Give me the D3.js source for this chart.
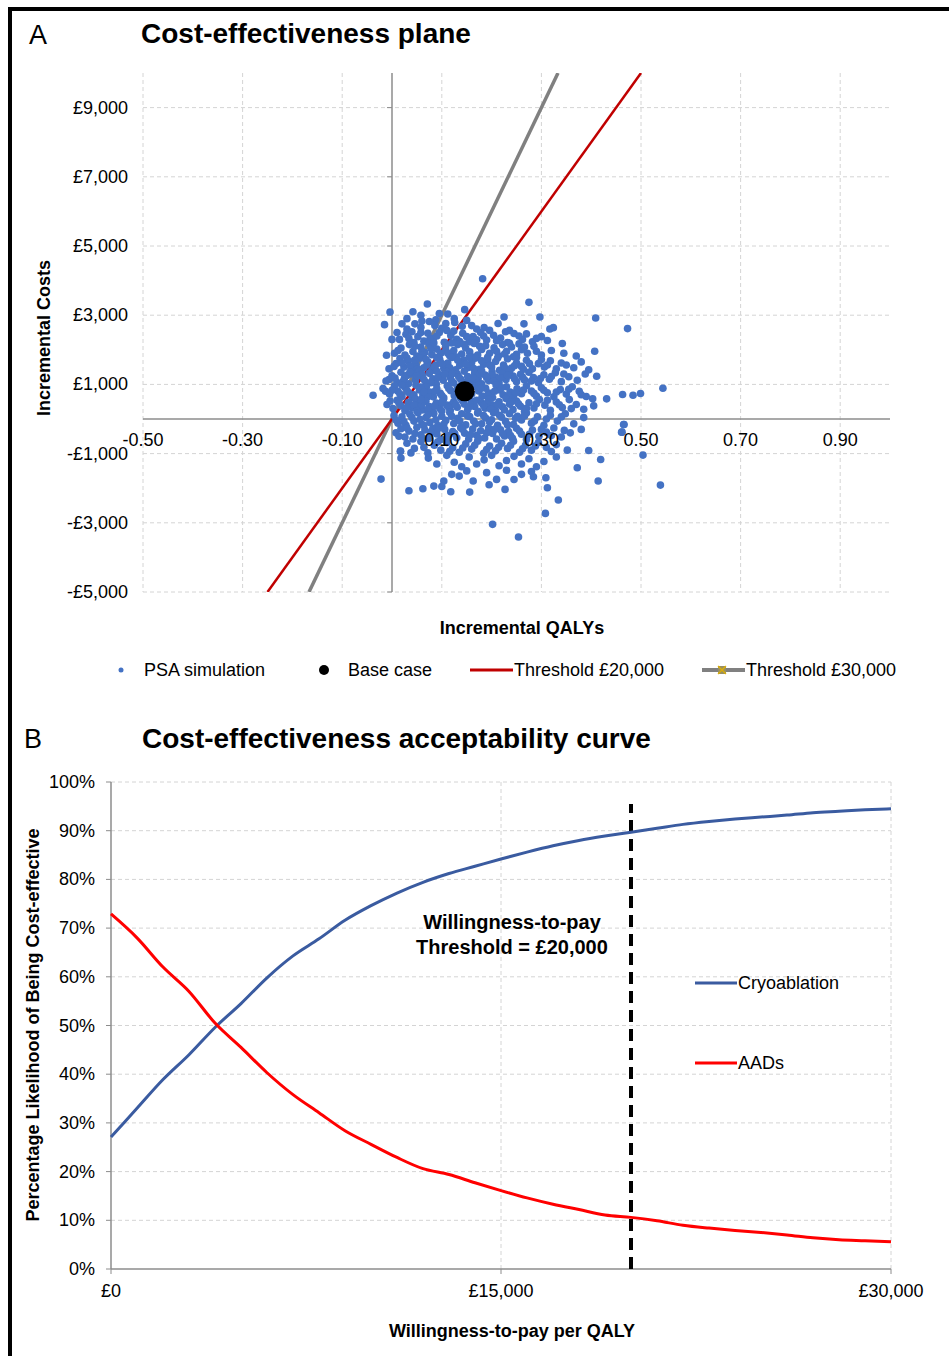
<!DOCTYPE html>
<html>
<head>
<meta charset="utf-8">
<script src="https://cdn.jsdelivr.net/npm/d3@7"></script>
<style>
body { margin: 0; background: #fff; }
svg { display: block; font-family: Arial, "Liberation Sans", sans-serif; }
</style>
</head>
<body>
<svg id="chart" width="949" height="1356"></svg>
<script>
// ---- panel A data: PSA simulations [incremental QALYs, incremental cost £]
var psaPoints = [
  [0.182,4055],[0.071,3324],[0.275,3372],[-0.004,3093],[-0.015,2727],[0.146,3160],[0.112,3035],
  [0.297,2949],[0.409,2920],[0.473,2612],[-0.011,1842],[0.407,1958],[-0.038,688],[-0.013,803],
  [-0.006,1140],[0.411,1236],[0.544,890],[0.463,707],[0.484,688],[0.499,736],[0.431,582],[0.403,582],
  [0.465,-159],[0.461,-380],[0.504,-1044],[0.539,-1910],[0.414,-1794],[0.419,-1169],[0.395,-909],
  [0.372,-1409],[0.334,-2343],[0.308,-2728],[0.202,-3045],[0.254,-3410],[-0.022,-1737],[0.034,-2074],
  [0.062,-2016],[0.084,-1939],[0.017,-929],[0.018,-1130],[0.073,-1130],[0.118,-2102],[0.156,-2112],
  [0.227,-2035],[0.312,-1987],[0.309,-1698],[0.284,-1669],[0.104,-1794],[0.135,-1650],[0.163,-1794],
  [0.210,-1746],
  [0.058,3000],[0.125,2900],[0.088,2870],
  [0.030,2900],[0.042,3100],[0.060,2830],[0.095,3050],[0.108,2760],[0.150,2850],[0.160,2700],
  [0.020,2750],[0.010,2500],[0.000,2300],[0.265,2750],[0.225,2950],
  [0.046,2750],[0.058,2650],[0.075,2820],[0.086,2700],[0.100,2620],[0.126,2790],[0.141,2680],
  [0.170,2600],[0.185,2640],[0.213,2760],[0.236,2560],[0.317,2600],[0.324,2640],[0.030,2600],
  [0.015,2300],[0.028,2450],[0.040,2520],[0.052,2380],[0.064,2250],[0.072,2480],[0.083,2330],
  [0.095,2500],[0.105,2220],[0.118,2410],[0.130,2300],[0.142,2480],[0.155,2230],[0.163,2380],
  [0.178,2500],[0.190,2280],[0.204,2420],[0.218,2340],[0.232,2210],[0.245,2470],[0.262,2300],
  [0.282,2230],[0.300,2380],[0.312,2270],[0.342,2180],[0.044,2210],[0.110,2560],[0.196,2560],
  [0.255,2400],[0.170,2290],
  [0.034,2330],[0.058,2500],[0.076,2300],[0.090,2400],[0.124,2540],[0.136,2240],[0.150,2380],
  [0.184,2400],[0.210,2260],[0.228,2520],[0.270,2460],[0.290,2330],
  [0.005,1900],[0.018,2050],[0.026,1850],[0.035,2150],[0.042,1950],[0.050,1820],[0.058,2080],
  [0.066,1920],[0.074,2180],[0.080,1860],[0.090,2020],[0.098,1900],[0.108,2120],[0.116,1830],
  [0.124,1980],[0.132,2150],[0.140,1880],[0.148,2050],[0.156,1940],[0.165,2180],[0.172,1850],
  [0.180,2010],[0.188,2120],[0.196,1900],[0.205,2060],[0.214,1830],[0.222,2150],[0.230,1960],
  [0.240,2080],[0.250,1870],[0.260,2000],[0.272,1900],[0.285,2100],[0.300,1850],[0.320,1980],
  [0.345,1900],[0.370,1820],[0.255,2170],[0.108,1990],[0.060,1960],
  [0.012,1980],[0.030,1760],[0.046,2100],[0.062,1840],[0.078,2040],[0.094,1780],[0.112,1900],
  [0.128,1800],[0.144,2160],[0.160,1800],[0.176,2100],[0.192,1780],[0.210,1960],[0.226,1880],
  [0.244,1800],[0.266,2080],[0.290,1960],[0.236,2190],[0.120,2200],[0.084,2200],
  [-0.006,1450],[0.008,1600],[0.016,1750],[0.024,1500],[0.032,1680],[0.040,1420],[0.048,1580],
  [0.056,1760],[0.064,1480],[0.072,1650],[0.080,1400],[0.088,1560],[0.096,1720],[0.104,1460],
  [0.112,1620],[0.120,1780],[0.128,1420],[0.136,1550],[0.144,1700],[0.152,1480],[0.160,1630],
  [0.168,1760],[0.176,1440],[0.184,1580],[0.192,1720],[0.200,1500],[0.208,1660],[0.216,1410],
  [0.224,1560],[0.232,1740],[0.240,1470],[0.250,1620],[0.260,1520],[0.270,1700],[0.282,1450],
  [0.294,1600],[0.306,1500],[0.318,1680],[0.330,1450],[0.350,1560],[0.365,1480],[0.380,1650],
  [0.395,1420],[0.250,1780],[0.140,1620],[0.070,1560],
  [0.004,1520],[0.020,1620],[0.036,1540],[0.052,1450],[0.068,1720],[0.084,1500],[0.100,1600],
  [0.116,1480],[0.132,1700],[0.148,1580],[0.164,1460],[0.180,1680],[0.196,1560],[0.212,1760],
  [0.228,1460],[0.246,1540],[0.264,1440],[0.276,1600],[0.300,1720],[0.312,1560],[0.340,1620],
  [0.155,1780],[0.090,1780],[0.045,1700],
  [-0.012,1100],[0.000,1250],[0.010,1050],[0.018,1350],[0.025,1180],[0.033,1020],[0.040,1300],
  [0.047,1120],[0.054,1380],[0.061,1220],[0.068,1060],[0.075,1320],[0.082,1160],[0.089,1010],
  [0.096,1280],[0.103,1120],[0.110,1370],[0.117,1200],[0.124,1040],[0.131,1300],[0.138,1150],
  [0.145,1380],[0.152,1230],[0.159,1070],[0.166,1330],[0.173,1170],[0.180,1020],[0.187,1270],
  [0.194,1110],[0.201,1360],[0.208,1210],[0.215,1050],[0.222,1310],[0.229,1140],[0.236,1390],
  [0.243,1240],[0.250,1080],[0.258,1290],[0.266,1130],[0.275,1350],[0.284,1200],[0.294,1050],
  [0.305,1280],[0.316,1150],[0.328,1340],[0.340,1080],[0.355,1220],[0.372,1120],[0.388,1300],
  [0.060,1290],[0.120,1300],[0.200,1260],[0.030,1260],[0.170,1080],
  [0.006,1180],[0.022,1080],[0.036,1360],[0.050,1250],[0.064,1140],[0.078,1050],[0.092,1200],
  [0.106,1290],[0.120,1100],[0.134,1220],[0.148,1060],[0.162,1190],[0.176,1300],[0.190,1200],
  [0.204,1100],[0.218,1190],[0.232,1260],[0.246,1160],[0.262,1210],[0.280,1100],[0.298,1170],
  [0.320,1230],[0.345,1300],[0.090,1380],[0.180,1390],
  [-0.018,880],[-0.005,720],[0.005,950],[0.012,800],[0.020,650],[0.027,900],[0.034,760],
  [0.041,620],[0.048,980],[0.055,840],[0.062,700],[0.069,930],[0.076,780],[0.083,640],
  [0.090,880],[0.097,740],[0.104,610],[0.111,960],[0.118,820],[0.125,680],[0.132,910],
  [0.160,720],[0.167,950],[0.174,810],[0.181,660],[0.188,890],[0.195,750],[0.202,620],
  [0.209,980],[0.216,840],[0.223,700],[0.230,930],[0.237,780],[0.244,640],[0.251,870],
  [0.260,730],[0.270,960],[0.280,810],[0.290,660],[0.300,900],[0.312,760],[0.325,640],
  [0.338,850],[0.350,720],[0.362,930],[0.376,800],[0.390,650],[0.155,620],[0.140,990],
  [0.145,650],[0.175,980],
  [0.000,830],[0.016,720],[0.030,820],[0.044,700],[0.058,920],[0.072,640],[0.086,800],
  [0.100,680],[0.114,880],[0.128,760],[0.178,880],[0.192,690],[0.206,800],[0.220,900],
  [0.234,680],[0.248,760],[0.264,840],[0.285,740],[0.305,830],[0.330,780],[0.355,860],
  [0.380,700],[0.064,780],[0.020,980],
  [-0.010,420],[0.002,300],[0.010,540],[0.018,380],[0.026,240],[0.033,480],[0.040,330],
  [0.047,580],[0.054,420],[0.061,260],[0.068,510],[0.075,360],[0.082,210],[0.089,460],
  [0.096,300],[0.103,560],[0.110,400],[0.117,250],[0.124,500],[0.131,340],[0.138,590],
  [0.145,430],[0.152,270],[0.159,520],[0.166,360],[0.173,220],[0.180,470],[0.187,310],
  [0.194,570],[0.201,410],[0.208,250],[0.215,500],[0.222,350],[0.229,590],[0.236,430],
  [0.243,270],[0.250,520],[0.258,370],[0.266,220],[0.275,470],[0.285,320],[0.296,560],
  [0.307,400],[0.318,250],[0.330,490],[0.342,330],[0.356,560],[0.370,420],[0.385,280],
  [0.405,380],[0.120,420],[0.060,420],[0.190,440],
  [-0.004,520],[0.014,460],[0.030,330],[0.044,400],[0.058,560],[0.072,280],[0.086,380],
  [0.100,480],[0.114,330],[0.128,420],[0.142,520],[0.156,360],[0.170,540],[0.184,390],
  [0.198,290],[0.212,420],[0.226,260],[0.240,500],[0.254,440],[0.270,310],[0.290,440],
  [0.312,540],[0.336,410],[0.360,300],[0.100,230],[0.050,240],
  [0.004,100],[0.012,-120],[0.020,60],[0.028,-180],[0.036,140],[0.044,-60],[0.052,180],
  [0.060,-150],[0.068,40],[0.076,-100],[0.084,160],[0.092,-190],[0.100,80],[0.108,-40],
  [0.116,190],[0.124,-130],[0.132,20],[0.140,150],[0.148,-170],[0.156,70],[0.164,-60],
  [0.172,170],[0.180,-140],[0.188,30],[0.196,-90],[0.204,180],[0.212,-180],[0.220,50],
  [0.228,-70],[0.236,150],[0.244,-160],[0.252,80],[0.260,-30],[0.270,170],[0.280,-120],
  [0.292,60],[0.305,-180],[0.318,110],[0.332,-60],[0.348,150],[0.365,-140],[0.385,40],
  [0.466,-160],
  [0.008,-30],[0.024,-80],[0.040,40],[0.056,-10],[0.072,120],[0.088,-20],[0.104,-150],
  [0.120,80],[0.136,-60],[0.152,90],[0.168,-140],[0.184,100],[0.200,-20],[0.216,110],
  [0.232,-170],[0.248,20],[0.266,90],[0.286,-60],[0.310,0],[0.340,60],[0.064,-190],
  [0.008,-400],[0.018,-280],[0.026,-520],[0.034,-350],[0.042,-580],[0.050,-240],[0.058,-460],
  [0.066,-320],[0.074,-560],[0.082,-270],[0.090,-430],[0.098,-590],[0.106,-300],[0.114,-480],
  [0.122,-360],[0.130,-540],[0.138,-250],[0.146,-410],[0.154,-580],[0.162,-290],[0.170,-470],
  [0.178,-340],[0.186,-550],[0.194,-260],[0.202,-420],[0.210,-580],[0.218,-310],[0.226,-490],
  [0.234,-360],[0.242,-560],[0.250,-270],[0.260,-440],[0.270,-590],[0.282,-320],[0.295,-500],
  [0.310,-380],[0.325,-260],[0.340,-520],[0.358,-400],[0.380,-300],[0.462,-380],
  [0.014,-500],[0.030,-260],[0.046,-420],[0.062,-560],[0.078,-380],[0.094,-270],[0.110,-560],
  [0.126,-420],[0.142,-300],[0.158,-450],[0.174,-560],[0.190,-400],[0.206,-300],[0.222,-420],
  [0.238,-480],[0.256,-350],[0.276,-440],[0.300,-300],[0.320,-480],[0.346,-330],
  [0.017,-930],[0.030,-700],[0.045,-850],[0.058,-650],[0.072,-980],[0.085,-760],[0.098,-900],
  [0.110,-680],[0.122,-830],[0.135,-960],[0.148,-720],[0.160,-870],[0.172,-640],[0.184,-990],
  [0.196,-780],[0.208,-920],[0.220,-700],[0.232,-850],[0.244,-640],[0.256,-960],[0.268,-760],
  [0.280,-900],[0.294,-680],[0.310,-820],[0.330,-740],[0.352,-900],
  [0.038,-980],[0.064,-820],[0.092,-660],[0.116,-930],[0.142,-840],[0.166,-760],[0.190,-880],
  [0.214,-820],[0.238,-760],[0.262,-860],[0.288,-780],[0.320,-940],
  [0.090,-1300],[0.110,-1050],[0.125,-1250],[0.140,-1380],[0.155,-1100],[0.170,-1300],
  [0.185,-1180],[0.200,-1050],[0.215,-1350],[0.230,-1200],[0.245,-1080],[0.260,-1300],
  [0.275,-1150],[0.290,-1380],[0.305,-1230],[0.330,-1100],
  [0.150,-1500],[0.190,-1550],[0.230,-1480],[0.260,-1600],[0.280,-1520],[0.245,-1750],
  [0.195,-1900],[0.120,-1600],[0.100,-1950]
];
var baseCase = [0.146, 800];
var thresholds = [
  { label: 'Threshold £20,000', lambda: 20000, color: '#C00000', width: 2.5 },
  { label: 'Threshold £30,000', lambda: 30000, color: '#808080', width: 3.5 }
];
var qalyTicks = [-0.5, -0.3, -0.1, 0.1, 0.3, 0.5, 0.7, 0.9];
var costTicks = [-5000, -3000, -1000, 1000, 3000, 5000, 7000, 9000];

// ---- panel B data: CEAC
var wtp = [0, 1000, 2000, 3000, 4000, 5000, 6000, 7000, 8000, 9000, 10000, 11000, 12000, 13000, 14000,
  15000, 16000, 17000, 18000, 19000, 20000, 21000, 22000, 23000, 24000, 25000, 26000, 27000, 28000, 29000, 30000];
var cryo = [27.1, 33.0, 38.9, 44.0, 49.6, 54.5, 59.8, 64.3, 67.8, 71.6, 74.6, 77.2, 79.4, 81.2, 82.7,
  84.2, 85.6, 86.9, 88.0, 88.9, 89.7, 90.5, 91.3, 91.9, 92.4, 92.8, 93.2, 93.7, 94.0, 94.3, 94.5];
var aads = [72.9, 68.0, 62.0, 57.0, 50.5, 45.5, 40.3, 35.8, 32.1, 28.4, 25.6, 22.9, 20.6, 19.4, 17.7,
  16.1, 14.6, 13.3, 12.2, 11.1, 10.6, 9.9, 9.0, 8.4, 7.9, 7.5, 7.0, 6.4, 6.0, 5.8, 5.6];
var pctTicks = [0, 10, 20, 30, 40, 50, 60, 70, 80, 90, 100];
var wtpTicks = [0, 15000, 30000];
var wtpThreshold = 20000;

var svg = d3.select('#chart');
var gridColor = '#d4d4d4';
var axisColor = '#8c8c8c';

function poundFmt(v) {
  return (v < 0 ? '-' : '') + '£' + d3.format(',')(Math.abs(v));
}

// outer frame (top + left)
svg.append('path')
  .attr('d', 'M10,1356V9H949')
  .attr('fill', 'none')
  .attr('stroke', '#000')
  .attr('stroke-width', 4);

// ================= Panel A =================
var xA = d3.scaleLinear().domain([-0.5, 1.0]).range([143, 890]);
var yA = d3.scaleLinear().domain([-5000, 10000]).range([592, 73]);

svg.append('text').attr('x', 29).attr('y', 44).style('font-size', '27px').text('A');
svg.append('text').attr('x', 141).attr('y', 43).style('font-size', '28px')
  .style('font-weight', 'bold').text('Cost-effectiveness plane');

var gA = svg.append('g');

gA.selectAll('.vgrid').data(qalyTicks).enter().append('line')
  .attr('x1', d => xA(d)).attr('x2', d => xA(d))
  .attr('y1', yA(10000)).attr('y2', yA(-5000))
  .attr('stroke', gridColor).attr('stroke-dasharray', '4,3');

gA.selectAll('.hgrid').data(costTicks).enter().append('line')
  .attr('x1', xA(-0.5)).attr('x2', xA(1.0))
  .attr('y1', d => yA(d)).attr('y2', d => yA(d))
  .attr('stroke', gridColor).attr('stroke-dasharray', '4,3');

// axes crossing at origin
gA.append('line')
  .attr('x1', xA(-0.5)).attr('x2', xA(1.0))
  .attr('y1', yA(0)).attr('y2', yA(0))
  .attr('stroke', axisColor).attr('stroke-width', 1.5);
gA.append('line')
  .attr('x1', xA(0)).attr('x2', xA(0))
  .attr('y1', yA(10000)).attr('y2', yA(-5000))
  .attr('stroke', axisColor).attr('stroke-width', 1.5);
gA.selectAll('.ytick').data(costTicks).enter().append('line')
  .attr('x1', xA(0) - 5).attr('x2', xA(0))
  .attr('y1', d => yA(d)).attr('y2', d => yA(d))
  .attr('stroke', axisColor);

// threshold lines
svg.append('clipPath').attr('id', 'clipA').append('rect')
  .attr('x', xA(-0.5)).attr('y', yA(10000))
  .attr('width', xA(1.0) - xA(-0.5)).attr('height', yA(-5000) - yA(10000));

var lineA = d3.line().x(d => xA(d[0])).y(d => yA(d[1]));
gA.selectAll('.thr').data(thresholds.slice().reverse()).enter().append('path')
  .attr('clip-path', 'url(#clipA)')
  .attr('d', d => lineA([[-5000 / d.lambda, -5000], [10000 / d.lambda, 10000]]))
  .attr('fill', 'none')
  .attr('stroke', d => d.color)
  .attr('stroke-width', d => d.width);

// PSA dots
gA.selectAll('.psa').data(psaPoints).enter().append('circle')
  .attr('cx', d => xA(d[0]))
  .attr('cy', d => yA(d[1]))
  .attr('r', 3.8)
  .attr('fill', '#4472C4');

gA.append('circle')
  .attr('cx', xA(baseCase[0])).attr('cy', yA(baseCase[1]))
  .attr('r', 10).attr('fill', '#000');

// tick labels
gA.selectAll('.xl').data(qalyTicks).enter().append('text')
  .attr('x', d => xA(d)).attr('y', yA(0) + 27)
  .attr('text-anchor', 'middle').style('font-size', '18px')
  .text(d => d3.format('.2f')(d).replace('\u2212', '-'));

gA.selectAll('.yl').data(costTicks).enter().append('text')
  .attr('x', 128).attr('y', d => yA(d) + 6)
  .attr('text-anchor', 'end').style('font-size', '18px')
  .text(poundFmt);

svg.append('text').attr('x', 522).attr('y', 634)
  .attr('text-anchor', 'middle').style('font-size', '18px').style('font-weight', 'bold')
  .text('Incremental QALYs');

svg.append('text').attr('transform', 'translate(50,338) rotate(-90)')
  .attr('text-anchor', 'middle').style('font-size', '18px').style('font-weight', 'bold')
  .text('Incremental Costs');

// legend A
var legA = svg.append('g').style('font-size', '18px');
legA.append('circle').attr('cx', 121).attr('cy', 670).attr('r', 2.5).attr('fill', '#4472C4');
legA.append('text').attr('x', 144).attr('y', 676).text('PSA simulation');
legA.append('circle').attr('cx', 324).attr('cy', 670).attr('r', 5).attr('fill', '#000');
legA.append('text').attr('x', 348).attr('y', 676).text('Base case');
legA.append('line').attr('x1', 470).attr('x2', 513).attr('y1', 670).attr('y2', 670)
  .attr('stroke', thresholds[0].color).attr('stroke-width', 3);
legA.append('text').attr('x', 514).attr('y', 676).text(thresholds[0].label);
legA.append('line').attr('x1', 702).attr('x2', 745).attr('y1', 670).attr('y2', 670)
  .attr('stroke', thresholds[1].color).attr('stroke-width', 4);
legA.append('rect').attr('x', 718).attr('y', 666).attr('width', 8).attr('height', 8)
  .attr('fill', '#9a9060');
legA.append('path').attr('d', 'M718,666L726,674M726,666L718,674')
  .attr('stroke', '#e0b000').attr('stroke-width', 1.2);
legA.append('text').attr('x', 746).attr('y', 676).text(thresholds[1].label);

// ================= Panel B =================
var xB = d3.scaleLinear().domain([0, 30000]).range([111, 891]);
var yB = d3.scaleLinear().domain([0, 100]).range([1269, 782]);

svg.append('text').attr('x', 24).attr('y', 748).style('font-size', '27px').text('B');
svg.append('text').attr('x', 142).attr('y', 748).style('font-size', '28px')
  .style('font-weight', 'bold').text('Cost-effectiveness acceptability curve');

var gB = svg.append('g');

gB.selectAll('.hg').data(pctTicks.slice(1)).enter().append('line')
  .attr('x1', xB(0)).attr('x2', xB(30000))
  .attr('y1', d => yB(d)).attr('y2', d => yB(d))
  .attr('stroke', gridColor).attr('stroke-dasharray', '4,3');
gB.selectAll('.vg').data(wtpTicks.slice(1)).enter().append('line')
  .attr('x1', d => xB(d)).attr('x2', d => xB(d))
  .attr('y1', yB(100)).attr('y2', yB(0))
  .attr('stroke', gridColor).attr('stroke-dasharray', '4,3');

gB.append('line').attr('x1', xB(0)).attr('x2', xB(0)).attr('y1', yB(100)).attr('y2', yB(0))
  .attr('stroke', axisColor).attr('stroke-width', 1.5);
gB.append('line').attr('x1', xB(0)).attr('x2', xB(30000)).attr('y1', yB(0)).attr('y2', yB(0))
  .attr('stroke', axisColor).attr('stroke-width', 1.5);
gB.selectAll('.yt').data(pctTicks).enter().append('line')
  .attr('x1', xB(0) - 5).attr('x2', xB(0))
  .attr('y1', d => yB(d)).attr('y2', d => yB(d)).attr('stroke', axisColor);
gB.selectAll('.xt').data(wtpTicks).enter().append('line')
  .attr('x1', d => xB(d)).attr('x2', d => xB(d))
  .attr('y1', yB(0)).attr('y2', yB(0) + 5).attr('stroke', axisColor);

gB.selectAll('.yl').data(pctTicks).enter().append('text')
  .attr('x', 95).attr('y', d => yB(d) + 6)
  .attr('text-anchor', 'end').style('font-size', '18px')
  .text(d => d + '%');
gB.selectAll('.xl').data(wtpTicks).enter().append('text')
  .attr('x', d => xB(d)).attr('y', 1297)
  .attr('text-anchor', 'middle').style('font-size', '18px')
  .text(poundFmt);

// threshold marker
gB.append('line')
  .attr('x1', xB(wtpThreshold)).attr('x2', xB(wtpThreshold))
  .attr('y1', yB(0)).attr('y2', yB(95.5))
  .attr('stroke', '#000').attr('stroke-width', 4).attr('stroke-dasharray', '12,7');

var lineB = d3.line().x((d, i) => xB(wtp[i])).y(d => yB(d)).curve(d3.curveMonotoneX);
gB.append('path').datum(cryo).attr('d', lineB)
  .attr('fill', 'none').attr('stroke', '#3A5BA0').attr('stroke-width', 3);
gB.append('path').datum(aads).attr('d', lineB)
  .attr('fill', 'none').attr('stroke', '#FF0000').attr('stroke-width', 3);

svg.append('text').attr('x', 512).attr('y', 929)
  .attr('text-anchor', 'middle').style('font-size', '20px').style('font-weight', 'bold')
  .text('Willingness-to-pay');
svg.append('text').attr('x', 512).attr('y', 954)
  .attr('text-anchor', 'middle').style('font-size', '20px').style('font-weight', 'bold')
  .text('Threshold = £20,000');

// legend B
var legB = svg.append('g').style('font-size', '18px');
legB.append('line').attr('x1', 695).attr('x2', 737).attr('y1', 983).attr('y2', 983)
  .attr('stroke', '#3A5BA0').attr('stroke-width', 3);
legB.append('text').attr('x', 738).attr('y', 989).text('Cryoablation');
legB.append('line').attr('x1', 695).attr('x2', 737).attr('y1', 1063).attr('y2', 1063)
  .attr('stroke', '#FF0000').attr('stroke-width', 3);
legB.append('text').attr('x', 738).attr('y', 1069).text('AADs');

svg.append('text').attr('transform', 'translate(39,1025) rotate(-90)')
  .attr('text-anchor', 'middle').style('font-size', '18px').style('font-weight', 'bold')
  .text('Percentage Likelihood of Being Cost-effective');
svg.append('text').attr('x', 512).attr('y', 1337)
  .attr('text-anchor', 'middle').style('font-size', '18px').style('font-weight', 'bold')
  .text('Willingness-to-pay per QALY');
</script>
</body>
</html>
